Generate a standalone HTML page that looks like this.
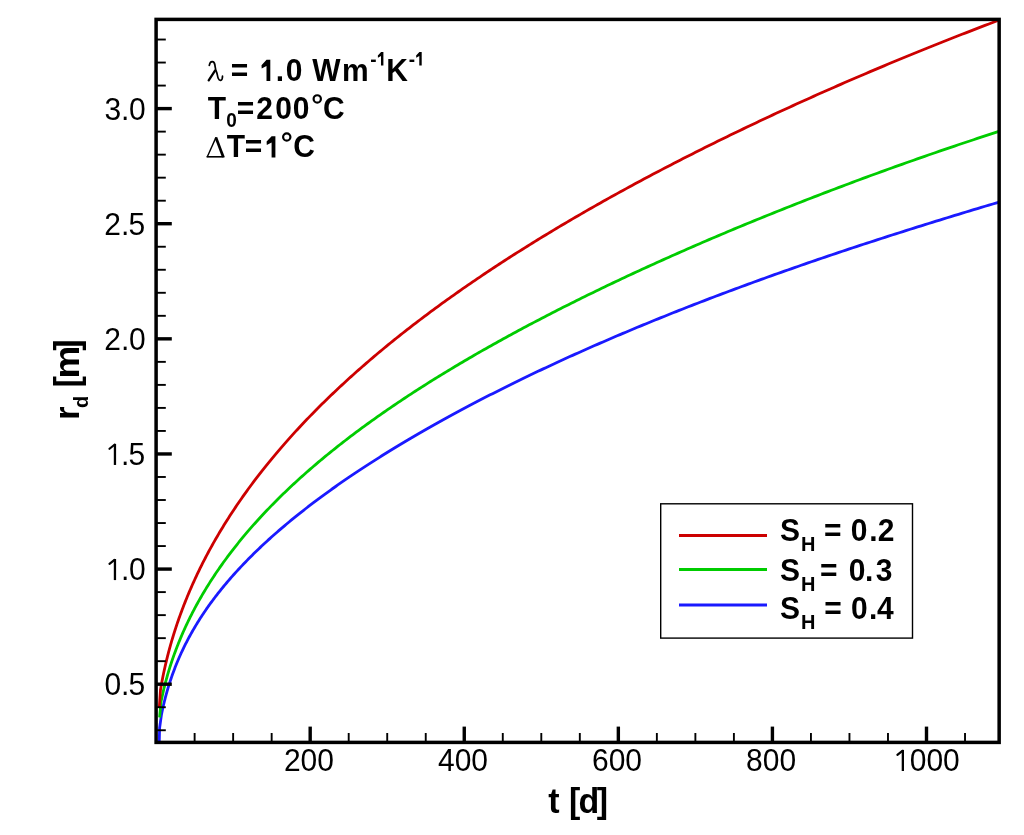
<!DOCTYPE html>
<html><head><meta charset="utf-8"><style>
html,body{margin:0;padding:0;background:#fff;}
svg{display:block;will-change:transform;}
text{font-family:"Liberation Sans",sans-serif;fill:#000;}
</style></head><body>
<svg width="1024" height="835" viewBox="0 0 1024 835">
<defs><clipPath id="pc"><rect x="156.1" y="19.4" width="843.05" height="723.0"/></clipPath></defs>
<g clip-path="url(#pc)" fill="none" stroke-width="2.8" stroke-linejoin="round">
<polyline stroke="#1a1aff" points="159.20,744.00 159.60,728.00 161.50,714.42 161.84,712.72 162.20,711.02 162.56,709.33 162.93,707.64 163.31,705.96 163.69,704.29 164.09,702.63 164.50,700.97 164.91,699.32 165.33,697.68 165.76,696.04 166.20,694.41 166.65,692.79 167.11,691.17 167.58,689.56 168.06,687.95 168.54,686.35 169.03,684.76 169.54,683.17 170.05,681.59 170.57,680.02 171.10,678.45 171.64,676.88 172.18,675.32 172.74,673.77 173.30,672.22 173.88,670.68 174.46,669.14 175.05,667.61 175.65,666.08 176.26,664.56 176.87,663.04 177.50,661.53 178.14,660.02 178.78,658.52 179.43,657.02 180.10,655.53 180.77,654.04 181.44,652.55 182.13,651.07 182.83,649.60 183.54,648.13 184.25,646.66 184.97,645.20 185.71,643.74 186.45,642.28 187.20,640.83 187.96,639.38 188.73,637.94 189.50,636.50 190.29,635.07 191.08,633.63 191.88,632.21 192.70,630.78 193.52,629.36 194.35,627.94 195.19,626.53 196.03,625.11 196.89,623.71 197.75,622.30 198.63,620.90 199.51,619.50 200.40,618.11 201.30,616.71 202.21,615.32 203.13,613.94 204.06,612.55 204.99,611.17 205.94,609.79 206.89,608.42 207.85,607.05 208.82,605.68 209.80,604.31 210.79,602.94 211.79,601.58 212.80,600.22 213.81,598.86 214.84,597.51 215.87,596.16 216.91,594.80 217.96,593.46 219.02,592.11 220.09,590.77 221.17,589.42 222.25,588.08 223.35,586.75 224.45,585.41 225.56,584.08 226.69,582.74 227.82,581.41 228.96,580.09 230.10,578.76 231.26,577.44 232.43,576.11 233.60,574.79 234.78,573.47 235.98,572.15 237.18,570.84 238.39,569.52 239.61,568.21 240.83,566.90 242.07,565.59 243.31,564.28 244.57,562.97 245.83,561.67 247.10,560.36 248.38,559.06 249.67,557.76 250.97,556.45 252.28,555.16 253.59,553.86 254.92,552.56 256.25,551.26 257.60,549.97 258.95,548.68 260.31,547.38 261.68,546.09 263.05,544.80 264.44,543.51 265.84,542.22 267.24,540.94 268.65,539.65 270.08,538.36 271.51,537.08 272.95,535.80 274.39,534.51 275.85,533.23 277.32,531.95 278.79,530.67 280.28,529.39 281.77,528.11 283.27,526.83 284.78,525.56 286.30,524.28 287.83,523.00 289.37,521.73 290.91,520.45 292.47,519.18 294.03,517.91 295.60,516.63 297.18,515.36 298.77,514.09 300.37,512.82 301.98,511.55 303.60,510.28 305.22,509.01 306.86,507.74 308.50,506.47 310.15,505.21 311.81,503.94 313.48,502.67 315.16,501.40 316.85,500.14 318.54,498.87 320.25,497.61 321.96,496.34 323.68,495.08 325.42,493.82 327.16,492.55 328.90,491.29 330.66,490.03 332.43,488.76 334.21,487.50 335.99,486.24 337.78,484.98 339.59,483.72 341.40,482.46 343.22,481.20 345.04,479.94 346.88,478.68 348.73,477.42 350.58,476.16 352.45,474.90 354.32,473.64 356.20,472.38 358.09,471.13 359.99,469.87 361.90,468.61 363.82,467.35 365.74,466.10 367.68,464.84 369.62,463.58 371.57,462.33 373.54,461.07 375.51,459.82 377.49,458.56 379.47,457.31 381.47,456.05 383.48,454.80 385.49,453.54 387.51,452.29 389.54,451.03 391.59,449.78 393.64,448.53 395.69,447.27 397.76,446.02 399.84,444.77 401.92,443.51 404.02,442.26 406.12,441.01 408.23,439.76 410.35,438.51 412.48,437.26 414.62,436.00 416.77,434.75 418.92,433.50 421.09,432.25 423.26,431.00 425.44,429.75 427.63,428.50 429.83,427.25 432.04,426.00 434.26,424.75 436.49,423.51 438.72,422.26 440.97,421.01 443.22,419.76 445.48,418.51 447.75,417.27 450.03,416.02 452.32,414.77 454.62,413.53 456.92,412.28 459.24,411.03 461.56,409.79 463.89,408.54 466.24,407.30 468.59,406.05 470.94,404.81 473.31,403.57 475.69,402.32 478.08,401.08 480.47,399.84 482.87,398.59 485.29,397.35 487.71,396.11 490.14,394.87 492.57,393.63 495.02,392.39 497.48,391.15 499.94,389.91 502.42,388.67 504.90,387.43 507.39,386.19 509.89,384.95 512.40,383.71 514.92,382.47 517.45,381.24 519.98,380.00 522.53,378.76 525.08,377.53 527.65,376.29 530.22,375.06 532.80,373.82 535.39,372.59 537.98,371.36 540.59,370.12 543.21,368.89 545.83,367.66 548.46,366.43 551.11,365.19 553.76,363.96 556.42,362.73 559.08,361.50 561.76,360.28 564.45,359.05 567.14,357.82 569.85,356.59 572.56,355.36 575.28,354.14 578.01,352.91 580.75,351.69 583.50,350.46 586.26,349.24 589.02,348.02 591.80,346.79 594.58,345.57 597.37,344.35 600.17,343.13 602.98,341.91 605.80,340.69 608.63,339.47 611.47,338.25 614.31,337.03 617.17,335.81 620.03,334.60 622.90,333.38 625.78,332.17 628.67,330.95 631.57,329.74 634.48,328.53 637.39,327.31 640.32,326.10 643.25,324.89 646.20,323.68 649.15,322.47 652.11,321.26 655.08,320.05 658.05,318.84 661.04,317.64 664.04,316.43 667.04,315.23 670.05,314.02 673.08,312.82 676.11,311.61 679.15,310.41 682.20,309.21 685.25,308.01 688.32,306.81 691.40,305.61 694.48,304.41 697.57,303.21 700.67,302.02 703.78,300.82 706.90,299.62 710.03,298.43 713.17,297.24 716.32,296.04 719.47,294.85 722.63,293.66 725.81,292.47 728.99,291.28 732.18,290.09 735.38,288.90 738.59,287.71 741.80,286.52 745.03,285.34 748.26,284.15 751.51,282.97 754.76,281.78 758.02,280.60 761.29,279.42 764.57,278.24 767.85,277.05 771.15,275.87 774.46,274.69 777.77,273.52 781.09,272.34 784.42,271.16 787.76,269.98 791.11,268.81 794.47,267.63 797.84,266.46 801.21,265.29 804.60,264.11 807.99,262.94 811.39,261.77 814.81,260.60 818.23,259.43 821.65,258.26 825.09,257.10 828.54,255.93 831.99,254.76 835.46,253.59 838.93,252.43 842.41,251.26 845.90,250.10 849.40,248.94 852.91,247.77 856.43,246.61 859.96,245.45 863.49,244.29 867.03,243.13 870.59,241.97 874.15,240.81 877.72,239.65 881.30,238.50 884.89,237.34 888.48,236.18 892.09,235.03 895.70,233.87 899.33,232.72 902.96,231.56 906.60,230.41 910.25,229.26 913.91,228.10 917.58,226.95 921.25,225.80 924.94,224.65 928.63,223.50 932.34,222.35 936.05,221.20 939.77,220.05 943.50,218.90 947.24,217.75 950.98,216.60 954.74,215.45 958.50,214.30 962.28,213.15 966.06,212.01 969.85,210.86 973.65,209.71 977.46,208.57 981.28,207.42 985.10,206.27 988.94,205.13 992.78,203.98 996.64,202.83 1000.50,201.69"/>
<polyline stroke="#00cc00" points="159.60,717.50 161.00,702.01 161.33,700.35 161.67,698.70 162.02,697.04 162.38,695.39 162.75,693.73 163.12,692.08 163.51,690.43 163.90,688.78 164.30,687.13 164.71,685.48 165.14,683.83 165.56,682.19 166.00,680.54 166.45,678.90 166.91,677.26 167.37,675.61 167.85,673.97 168.33,672.34 168.82,670.70 169.32,669.06 169.83,667.43 170.35,665.79 170.88,664.16 171.41,662.53 171.96,660.90 172.51,659.27 173.07,657.65 173.65,656.02 174.23,654.40 174.82,652.78 175.42,651.16 176.02,649.54 176.64,647.92 177.26,646.30 177.90,644.68 178.54,643.07 179.19,641.46 179.86,639.85 180.52,638.24 181.20,636.63 181.89,635.02 182.59,633.42 183.29,631.81 184.01,630.21 184.73,628.61 185.46,627.01 186.20,625.42 186.95,623.82 187.71,622.23 188.48,620.63 189.26,619.04 190.04,617.45 190.84,615.86 191.64,614.28 192.45,612.69 193.28,611.11 194.11,609.53 194.95,607.95 195.79,606.37 196.65,604.79 197.52,603.21 198.39,601.64 199.27,600.07 200.17,598.50 201.07,596.93 201.98,595.36 202.90,593.79 203.83,592.23 204.76,590.67 205.71,589.10 206.66,587.54 207.63,585.99 208.60,584.43 209.58,582.87 210.57,581.32 211.57,579.77 212.58,578.22 213.60,576.67 214.62,575.12 215.66,573.58 216.70,572.03 217.76,570.49 218.82,568.95 219.89,567.41 220.97,565.88 222.06,564.34 223.15,562.81 224.26,561.27 225.38,559.74 226.50,558.21 227.63,556.68 228.78,555.16 229.93,553.63 231.09,552.11 232.26,550.59 233.43,549.07 234.62,547.55 235.81,546.03 237.02,544.52 238.23,543.00 239.45,541.49 240.69,539.98 241.93,538.47 243.17,536.96 244.43,535.46 245.70,533.95 246.97,532.45 248.26,530.95 249.55,529.45 250.85,527.95 252.17,526.45 253.49,524.95 254.82,523.46 256.15,521.97 257.50,520.47 258.86,518.98 260.22,517.50 261.59,516.01 262.98,514.52 264.37,513.04 265.77,511.56 267.18,510.08 268.60,508.60 270.02,507.12 271.46,505.64 272.90,504.16 274.36,502.69 275.82,501.22 277.29,499.74 278.77,498.27 280.26,496.81 281.76,495.34 283.27,493.87 284.78,492.41 286.31,490.94 287.84,489.48 289.38,488.02 290.94,486.56 292.50,485.10 294.07,483.65 295.64,482.19 297.23,480.73 298.83,479.28 300.43,477.83 302.05,476.38 303.67,474.93 305.30,473.48 306.94,472.03 308.59,470.59 310.25,469.14 311.92,467.70 313.60,466.26 315.28,464.82 316.98,463.38 318.68,461.94 320.39,460.50 322.11,459.06 323.84,457.63 325.58,456.19 327.33,454.76 329.08,453.33 330.85,451.90 332.62,450.47 334.41,449.04 336.20,447.61 338.00,446.19 339.81,444.76 341.63,443.34 343.46,441.91 345.30,440.49 347.14,439.07 349.00,437.65 350.86,436.23 352.73,434.81 354.61,433.39 356.50,431.98 358.40,430.56 360.31,429.15 362.23,427.73 364.15,426.32 366.09,424.91 368.03,423.50 369.98,422.09 371.95,420.68 373.92,419.27 375.90,417.86 377.88,416.45 379.88,415.05 381.89,413.64 383.90,412.24 385.93,410.84 387.96,409.43 390.00,408.03 392.05,406.63 394.11,405.23 396.18,403.83 398.26,402.44 400.34,401.04 402.44,399.64 404.54,398.24 406.65,396.85 408.78,395.45 410.91,394.06 413.05,392.67 415.19,391.27 417.35,389.88 419.52,388.49 421.69,387.10 423.88,385.71 426.07,384.32 428.27,382.93 430.48,381.55 432.70,380.16 434.93,378.77 437.17,377.39 439.42,376.00 441.67,374.62 443.94,373.23 446.21,371.85 448.49,370.47 450.78,369.08 453.08,367.70 455.39,366.32 457.71,364.94 460.04,363.56 462.37,362.18 464.72,360.80 467.07,359.42 469.43,358.04 471.80,356.67 474.18,355.29 476.57,353.91 478.97,352.54 481.38,351.16 483.79,349.79 486.22,348.41 488.65,347.04 491.09,345.66 493.54,344.29 496.01,342.92 498.47,341.54 500.95,340.17 503.44,338.80 505.94,337.43 508.44,336.06 510.95,334.69 513.48,333.32 516.01,331.95 518.55,330.58 521.10,329.21 523.66,327.84 526.22,326.48 528.80,325.11 531.38,323.74 533.98,322.37 536.58,321.01 539.19,319.64 541.81,318.28 544.44,316.91 547.08,315.55 549.73,314.18 552.39,312.82 555.05,311.45 557.73,310.09 560.41,308.73 563.10,307.36 565.80,306.00 568.51,304.64 571.23,303.28 573.96,301.91 576.69,300.55 579.44,299.19 582.19,297.83 584.96,296.47 587.73,295.11 590.51,293.75 593.30,292.39 596.10,291.03 598.91,289.67 601.72,288.32 604.55,286.96 607.38,285.60 610.23,284.24 613.08,282.88 615.94,281.53 618.81,280.17 621.69,278.82 624.58,277.46 627.47,276.10 630.38,274.75 633.29,273.39 636.22,272.04 639.15,270.69 642.09,269.33 645.04,267.98 648.00,266.62 650.97,265.27 653.94,263.92 656.93,262.57 659.93,261.22 662.93,259.86 665.94,258.51 668.96,257.16 671.99,255.81 675.03,254.46 678.08,253.11 681.14,251.76 684.20,250.42 687.28,249.07 690.36,247.72 693.46,246.37 696.56,245.02 699.67,243.68 702.79,242.33 705.92,240.99 709.05,239.64 712.20,238.30 715.35,236.95 718.52,235.61 721.69,234.26 724.87,232.92 728.06,231.58 731.26,230.24 734.47,228.90 737.69,227.56 740.92,226.22 744.15,224.88 747.40,223.54 750.65,222.20 753.91,220.86 757.18,219.52 760.46,218.19 763.75,216.85 767.05,215.51 770.35,214.18 773.67,212.84 776.99,211.51 780.33,210.18 783.67,208.85 787.02,207.51 790.38,206.18 793.75,204.85 797.13,203.52 800.51,202.20 803.91,200.87 807.31,199.54 810.73,198.22 814.15,196.89 817.58,195.57 821.02,194.24 824.47,192.92 827.93,191.60 831.39,190.28 834.87,188.96 838.36,187.64 841.85,186.32 845.35,185.00 848.86,183.69 852.38,182.37 855.91,181.06 859.45,179.75 863.00,178.43 866.55,177.12 870.12,175.81 873.69,174.51 877.27,173.20 880.87,171.89 884.47,170.59 888.08,169.28 891.69,167.98 895.32,166.68 898.96,165.38 902.60,164.08 906.26,162.79 909.92,161.49 913.59,160.20 917.27,158.90 920.96,157.61 924.66,156.32 928.37,155.03 932.08,153.75 935.81,152.46 939.54,151.18 943.29,149.90 947.04,148.62 950.80,147.34 954.57,146.06 958.35,144.79 962.13,143.51 965.93,142.24 969.74,140.97 973.55,139.71 977.37,138.44 981.21,137.18 985.05,135.91 988.90,134.65 992.76,133.40 996.62,132.14 1000.50,130.89"/>
<polyline stroke="#cc0000" points="159.30,707.50 160.50,689.77 160.82,687.89 161.15,686.01 161.48,684.13 161.83,682.25 162.18,680.37 162.55,678.49 162.92,676.60 163.30,674.72 163.69,672.84 164.09,670.97 164.50,669.09 164.92,667.21 165.34,665.33 165.78,663.45 166.22,661.58 166.68,659.70 167.14,657.82 167.61,655.95 168.09,654.07 168.58,652.20 169.08,650.32 169.59,648.45 170.10,646.58 170.63,644.71 171.16,642.84 171.70,640.97 172.26,639.10 172.82,637.23 173.39,635.36 173.97,633.49 174.56,631.63 175.15,629.76 175.76,627.90 176.37,626.03 177.00,624.17 177.63,622.31 178.27,620.44 178.92,618.58 179.58,616.72 180.25,614.86 180.93,613.01 181.62,611.15 182.31,609.29 183.02,607.44 183.73,605.58 184.45,603.73 185.19,601.88 185.93,600.03 186.68,598.18 187.43,596.33 188.20,594.48 188.98,592.63 189.76,590.79 190.56,588.94 191.36,587.10 192.17,585.25 193.00,583.41 193.83,581.57 194.67,579.73 195.51,577.89 196.37,576.06 197.24,574.22 198.11,572.38 199.00,570.55 199.89,568.72 200.79,566.89 201.70,565.05 202.62,563.23 203.55,561.40 204.49,559.57 205.44,557.74 206.40,555.92 207.36,554.10 208.33,552.27 209.32,550.45 210.31,548.63 211.31,546.82 212.32,545.00 213.34,543.18 214.37,541.37 215.40,539.55 216.45,537.74 217.51,535.93 218.57,534.12 219.64,532.31 220.72,530.51 221.82,528.70 222.91,526.90 224.02,525.09 225.14,523.29 226.27,521.49 227.40,519.69 228.55,517.89 229.70,516.10 230.86,514.30 232.04,512.51 233.22,510.71 234.41,508.92 235.60,507.13 236.81,505.34 238.03,503.56 239.25,501.77 240.49,499.99 241.73,498.20 242.98,496.42 244.25,494.64 245.52,492.86 246.80,491.08 248.08,489.30 249.38,487.53 250.69,485.75 252.00,483.98 253.33,482.21 254.66,480.44 256.00,478.67 257.35,476.90 258.71,475.14 260.08,473.37 261.46,471.61 262.85,469.85 264.24,468.09 265.65,466.33 267.06,464.57 268.49,462.81 269.92,461.06 271.36,459.30 272.81,457.55 274.27,455.80 275.74,454.05 277.21,452.30 278.70,450.55 280.19,448.81 281.70,447.06 283.21,445.32 284.73,443.58 286.26,441.84 287.80,440.10 289.35,438.36 290.91,436.62 292.47,434.89 294.05,433.15 295.63,431.42 297.23,429.69 298.83,427.96 300.44,426.23 302.06,424.50 303.69,422.77 305.33,421.05 306.98,419.32 308.63,417.60 310.30,415.88 311.97,414.16 313.66,412.44 315.35,410.72 317.05,409.01 318.76,407.29 320.48,405.58 322.21,403.87 323.95,402.16 325.69,400.45 327.45,398.74 329.21,397.03 330.98,395.32 332.77,393.62 334.56,391.91 336.36,390.21 338.17,388.51 339.98,386.81 341.81,385.11 343.65,383.41 345.49,381.72 347.35,380.02 349.21,378.33 351.08,376.63 352.96,374.94 354.85,373.25 356.75,371.56 358.66,369.87 360.57,368.19 362.50,366.50 364.44,364.82 366.38,363.13 368.33,361.45 370.29,359.77 372.26,358.09 374.24,356.41 376.23,354.73 378.23,353.05 380.24,351.38 382.25,349.70 384.28,348.03 386.31,346.36 388.35,344.69 390.40,343.02 392.46,341.35 394.53,339.68 396.61,338.01 398.70,336.35 400.79,334.68 402.90,333.02 405.01,331.35 407.14,329.69 409.27,328.03 411.41,326.37 413.56,324.71 415.72,323.06 417.89,321.40 420.07,319.74 422.25,318.09 424.45,316.44 426.65,314.78 428.86,313.13 431.09,311.48 433.32,309.83 435.56,308.18 437.81,306.53 440.06,304.89 442.33,303.24 444.61,301.60 446.89,299.95 449.18,298.31 451.49,296.67 453.80,295.03 456.12,293.39 458.45,291.75 460.79,290.11 463.14,288.47 465.49,286.84 467.86,285.20 470.23,283.57 472.62,281.93 475.01,280.30 477.41,278.67 479.82,277.04 482.24,275.41 484.67,273.78 487.11,272.15 489.55,270.52 492.01,268.90 494.47,267.27 496.95,265.65 499.43,264.02 501.92,262.40 504.42,260.78 506.93,259.16 509.45,257.54 511.97,255.92 514.51,254.30 517.06,252.68 519.61,251.06 522.17,249.45 524.74,247.83 527.33,246.22 529.92,244.60 532.51,242.99 535.12,241.38 537.74,239.77 540.37,238.15 543.00,236.55 545.64,234.94 548.30,233.33 550.96,231.72 553.63,230.11 556.31,228.51 559.00,226.90 561.70,225.30 564.40,223.69 567.12,222.09 569.84,220.49 572.58,218.89 575.32,217.29 578.07,215.69 580.83,214.09 583.60,212.49 586.38,210.89 589.17,209.30 591.96,207.70 594.77,206.11 597.58,204.51 600.41,202.92 603.24,201.32 606.08,199.73 608.93,198.14 611.79,196.55 614.66,194.96 617.54,193.37 620.42,191.78 623.32,190.19 626.22,188.61 629.14,187.02 632.06,185.44 634.99,183.85 637.93,182.27 640.88,180.68 643.84,179.10 646.80,177.52 649.78,175.94 652.77,174.36 655.76,172.78 658.76,171.20 661.77,169.62 664.80,168.05 667.83,166.47 670.86,164.89 673.91,163.32 676.97,161.74 680.04,160.17 683.11,158.60 686.19,157.03 689.29,155.46 692.39,153.89 695.50,152.32 698.62,150.75 701.75,149.18 704.89,147.61 708.03,146.05 711.19,144.48 714.35,142.92 717.53,141.35 720.71,139.79 723.90,138.23 727.10,136.67 730.31,135.11 733.53,133.55 736.76,131.99 739.99,130.43 743.24,128.87 746.49,127.31 749.76,125.76 753.03,124.20 756.31,122.65 759.60,121.10 762.90,119.55 766.21,117.99 769.52,116.44 772.85,114.89 776.19,113.35 779.53,111.80 782.88,110.25 786.25,108.71 789.62,107.16 793.00,105.62 796.39,104.07 799.78,102.53 803.19,100.99 806.61,99.45 810.03,97.91 813.47,96.37 816.91,94.84 820.36,93.30 823.82,91.77 827.29,90.23 830.77,88.70 834.26,87.17 837.75,85.64 841.26,84.11 844.77,82.58 848.30,81.05 851.83,79.52 855.37,78.00 858.92,76.47 862.48,74.95 866.05,73.43 869.63,71.91 873.22,70.39 876.81,68.87 880.42,67.35 884.03,65.84 887.65,64.32 891.28,62.81 894.92,61.30 898.57,59.79 902.23,58.28 905.90,56.77 909.57,55.26 913.26,53.76 916.95,52.25 920.66,50.75 924.37,49.25 928.09,47.75 931.82,46.25 935.56,44.75 939.31,43.26 943.07,41.76 946.83,40.27 950.61,38.78 954.39,37.29 958.18,35.80 961.99,34.31 965.80,32.83 969.62,31.34 973.45,29.86 977.28,28.38 981.13,26.90 984.99,25.43 988.85,23.95 992.73,22.48 996.61,21.00 1000.50,19.53"/>
</g>
<line x1="156" y1="730.25" x2="165.8" y2="730.25" stroke="#000" stroke-width="1.9"/><line x1="156" y1="707.22" x2="165.8" y2="707.22" stroke="#000" stroke-width="1.9"/><line x1="156" y1="684.20" x2="171.8" y2="684.20" stroke="#000" stroke-width="3.4"/><line x1="156" y1="661.18" x2="165.8" y2="661.18" stroke="#000" stroke-width="1.9"/><line x1="156" y1="638.15" x2="165.8" y2="638.15" stroke="#000" stroke-width="1.9"/><line x1="156" y1="615.13" x2="165.8" y2="615.13" stroke="#000" stroke-width="1.9"/><line x1="156" y1="592.10" x2="165.8" y2="592.10" stroke="#000" stroke-width="1.9"/><line x1="156" y1="569.08" x2="171.8" y2="569.08" stroke="#000" stroke-width="3.4"/><line x1="156" y1="546.06" x2="165.8" y2="546.06" stroke="#000" stroke-width="1.9"/><line x1="156" y1="523.03" x2="165.8" y2="523.03" stroke="#000" stroke-width="1.9"/><line x1="156" y1="500.01" x2="165.8" y2="500.01" stroke="#000" stroke-width="1.9"/><line x1="156" y1="476.98" x2="165.8" y2="476.98" stroke="#000" stroke-width="1.9"/><line x1="156" y1="453.96" x2="171.8" y2="453.96" stroke="#000" stroke-width="3.4"/><line x1="156" y1="430.94" x2="165.8" y2="430.94" stroke="#000" stroke-width="1.9"/><line x1="156" y1="407.91" x2="165.8" y2="407.91" stroke="#000" stroke-width="1.9"/><line x1="156" y1="384.89" x2="165.8" y2="384.89" stroke="#000" stroke-width="1.9"/><line x1="156" y1="361.86" x2="165.8" y2="361.86" stroke="#000" stroke-width="1.9"/><line x1="156" y1="338.84" x2="171.8" y2="338.84" stroke="#000" stroke-width="3.4"/><line x1="156" y1="315.82" x2="165.8" y2="315.82" stroke="#000" stroke-width="1.9"/><line x1="156" y1="292.79" x2="165.8" y2="292.79" stroke="#000" stroke-width="1.9"/><line x1="156" y1="269.77" x2="165.8" y2="269.77" stroke="#000" stroke-width="1.9"/><line x1="156" y1="246.74" x2="165.8" y2="246.74" stroke="#000" stroke-width="1.9"/><line x1="156" y1="223.72" x2="171.8" y2="223.72" stroke="#000" stroke-width="3.4"/><line x1="156" y1="200.70" x2="165.8" y2="200.70" stroke="#000" stroke-width="1.9"/><line x1="156" y1="177.67" x2="165.8" y2="177.67" stroke="#000" stroke-width="1.9"/><line x1="156" y1="154.65" x2="165.8" y2="154.65" stroke="#000" stroke-width="1.9"/><line x1="156" y1="131.62" x2="165.8" y2="131.62" stroke="#000" stroke-width="1.9"/><line x1="156" y1="108.60" x2="171.8" y2="108.60" stroke="#000" stroke-width="3.4"/><line x1="156" y1="85.58" x2="165.8" y2="85.58" stroke="#000" stroke-width="1.9"/><line x1="156" y1="62.55" x2="165.8" y2="62.55" stroke="#000" stroke-width="1.9"/><line x1="156" y1="39.53" x2="165.8" y2="39.53" stroke="#000" stroke-width="1.9"/><line x1="194.62" y1="742" x2="194.62" y2="733" stroke="#000" stroke-width="1.9"/><line x1="233.14" y1="742" x2="233.14" y2="733" stroke="#000" stroke-width="1.9"/><line x1="271.66" y1="742" x2="271.66" y2="733" stroke="#000" stroke-width="1.9"/><line x1="310.18" y1="742" x2="310.18" y2="726.6" stroke="#000" stroke-width="3.4"/><line x1="348.70" y1="742" x2="348.70" y2="733" stroke="#000" stroke-width="1.9"/><line x1="387.22" y1="742" x2="387.22" y2="733" stroke="#000" stroke-width="1.9"/><line x1="425.74" y1="742" x2="425.74" y2="733" stroke="#000" stroke-width="1.9"/><line x1="464.26" y1="742" x2="464.26" y2="726.6" stroke="#000" stroke-width="3.4"/><line x1="502.78" y1="742" x2="502.78" y2="733" stroke="#000" stroke-width="1.9"/><line x1="541.30" y1="742" x2="541.30" y2="733" stroke="#000" stroke-width="1.9"/><line x1="579.82" y1="742" x2="579.82" y2="733" stroke="#000" stroke-width="1.9"/><line x1="618.34" y1="742" x2="618.34" y2="726.6" stroke="#000" stroke-width="3.4"/><line x1="656.86" y1="742" x2="656.86" y2="733" stroke="#000" stroke-width="1.9"/><line x1="695.38" y1="742" x2="695.38" y2="733" stroke="#000" stroke-width="1.9"/><line x1="733.90" y1="742" x2="733.90" y2="733" stroke="#000" stroke-width="1.9"/><line x1="772.42" y1="742" x2="772.42" y2="726.6" stroke="#000" stroke-width="3.4"/><line x1="810.94" y1="742" x2="810.94" y2="733" stroke="#000" stroke-width="1.9"/><line x1="849.46" y1="742" x2="849.46" y2="733" stroke="#000" stroke-width="1.9"/><line x1="887.98" y1="742" x2="887.98" y2="733" stroke="#000" stroke-width="1.9"/><line x1="926.50" y1="742" x2="926.50" y2="726.6" stroke="#000" stroke-width="3.4"/><line x1="965.02" y1="742" x2="965.02" y2="733" stroke="#000" stroke-width="1.9"/>
<rect x="156.1" y="19.4" width="843.05" height="723.00" fill="none" stroke="#000" stroke-width="3.5"/>
<text transform="translate(0,695.2) scale(1,1.055)" x="104.53 120.96 128.40" y="0" font-size="30" font-weight="normal" >0.5</text><text transform="translate(0,580.08) scale(1,1.055)" x="120.96 128.93" y="0" font-size="30" font-weight="normal" >.0</text><path d="M113.80,580.08 L116.10,580.08 L116.10,558.98 L113.80,558.98 Z" fill="#000"/><path d="M114.50,559.88 L109.50,563.88" stroke="#000" stroke-width="2.2" stroke-linecap="round"/><text transform="translate(0,464.96) scale(1,1.055)" x="120.96 128.40" y="0" font-size="30" font-weight="normal" >.5</text><path d="M113.80,464.96 L116.10,464.96 L116.10,443.86 L113.80,443.86 Z" fill="#000"/><path d="M114.50,444.76 L109.50,448.76" stroke="#000" stroke-width="2.2" stroke-linecap="round"/><text transform="translate(0,349.84) scale(1,1.055)" x="104.19 120.96 128.93" y="0" font-size="30" font-weight="normal" >2.0</text><text transform="translate(0,234.72) scale(1,1.055)" x="104.19 120.96 128.40" y="0" font-size="30" font-weight="normal" >2.5</text><text transform="translate(0,119.6) scale(1,1.055)" x="104.56 120.96 128.93" y="0" font-size="30" font-weight="normal" >3.0</text>
<text transform="translate(308.9,771.0) scale(1,1.055)" text-anchor="middle" font-size="30">200</text><text transform="translate(463.0,771.0) scale(1,1.055)" text-anchor="middle" font-size="30">400</text><text transform="translate(617.0,771.0) scale(1,1.055)" text-anchor="middle" font-size="30">600</text><text transform="translate(771.1,771.0) scale(1,1.055)" text-anchor="middle" font-size="30">800</text><text transform="translate(0,771.0) scale(1,1.055)" x="909.73 926.43 943.13" y="0" font-size="30" font-weight="normal" >000</text><path d="M901.70,771.0 L904.00,771.0 L904.00,749.90 L901.70,749.90 Z" fill="#000"/><path d="M902.40,750.80 L897.40,754.80" stroke="#000" stroke-width="2.2" stroke-linecap="round"/>
<text transform="translate(0,812.6) scale(1,1.055)" x="548.38 568.89 578.41 596.69" y="0" font-size="34" font-weight="bold" >t[d]</text>
<g transform="rotate(-90)"><text transform="translate(0,79.0) scale(1,1.055)" x="-419.74 -387.61 -350.72" y="0" font-size="34" font-weight="bold" >r[]</text><text transform="translate(-376.0,79.0) scale(1.0858,1.055)" x="-2.24" y="0" font-size="34" font-weight="bold">m</text><text transform="translate(0,88.0) scale(1,1.055)" x="-408.12" y="0" font-size="20" font-weight="bold" >d</text></g>
<path d="M209.3,65.4 C209.8,62.8 211,61.6 212.3,61.7 C213.9,61.8 214.6,63.2 214.9,65 C215.3,67.5 215.4,70 216.5,72 C217.3,73.5 217.3,76 218.2,78.3 C218.8,79.8 219.6,80.5 220.6,80.4 C222,80.2 222.5,78.6 222.5,76.2" fill="none" stroke="#000" stroke-width="1.7" stroke-linecap="round"/><path d="M215.2,70.4 L208.7,80.4" stroke="#000" stroke-width="2.3" stroke-linecap="round"/>
<path d="M207.2,157 L215.9,137.6" stroke="#000" stroke-width="1.4"/><path d="M215.9,137.4 L223.3,157" stroke="#000" stroke-width="2.7"/><path d="M206.6,156.8 L224.4,156.8" stroke="#000" stroke-width="1.6"/><path d="M215.9,137.2 L215.9,140" stroke="#000" stroke-width="1.6"/>
<text transform="translate(0,81) scale(1,1.055)" x="230.65 275.76 285.71 312.17 342.02 386.19" y="0" font-size="30" font-weight="bold" >=.0WmK</text><path d="M270.30,81.00 L266.50,81.00 L266.50,66.00 L261.70,68.60 L261.50,65.20 L266.30,60.00 L266.50,59.80 L270.30,59.80 Z" fill="#000"/><text transform="translate(0,65.5) scale(1,1.055)" x="370.36 408.66" y="0" font-size="19" font-weight="bold" >--</text><path d="M383.40,65.50 L380.99,65.50 L380.99,56.00 L377.95,57.65 L377.83,55.49 L380.87,52.20 L380.99,52.07 L383.40,52.07 Z" fill="#000"/><path d="M421.70,65.50 L419.29,65.50 L419.29,56.00 L416.25,57.65 L416.13,55.49 L419.17,52.20 L419.29,52.07 L421.70,52.07 Z" fill="#000"/>
<text transform="translate(0,119.3) scale(1,1.055)" x="207.76 236.85 256.26 275.21 292.81 322.97" y="0" font-size="30" font-weight="bold" >T=200C</text><circle cx="317.25" cy="98.90" r="3.65" fill="none" stroke="#000" stroke-width="2.2"/><text transform="translate(0,127.3) scale(1,1.055)" x="226.35" y="0" font-size="19" font-weight="bold" >0</text>
<text transform="translate(0,157.4) scale(1,1.055)" x="226.76 244.85 293.27" y="0" font-size="30" font-weight="bold" >T=C</text><path d="M275.40,157.40 L271.60,157.40 L271.60,142.40 L266.80,145.00 L266.60,141.60 L271.40,136.40 L271.60,136.20 L275.40,136.20 Z" fill="#000"/><circle cx="286.75" cy="137.00" r="3.65" fill="none" stroke="#000" stroke-width="2.2"/>
<rect x="660.7" y="503.8" width="251.8" height="134.3" fill="#fff" stroke="#000" stroke-width="1.4"/>
<line x1="679" y1="535.5" x2="767" y2="535.5" stroke="#cc0000" stroke-width="3"/>
<line x1="679" y1="569.5" x2="767" y2="569.5" stroke="#00cc00" stroke-width="3"/>
<line x1="679" y1="605" x2="767" y2="605" stroke="#1a1aff" stroke-width="3"/>
<text transform="translate(0,541.0) scale(1,1.055)" x="780.04 823.95 850.81 869.26 877.66" y="0" font-size="30" font-weight="bold" >S=0.2</text><text transform="translate(0,551.3) scale(1,1.055)" x="800.96" y="0" font-size="20" font-weight="bold" >H</text><text transform="translate(0,580.5) scale(1,1.055)" x="780.04 820.05 848.81 864.96 875.71" y="0" font-size="30" font-weight="bold" >S=0.3</text><text transform="translate(0,590.8) scale(1,1.055)" x="800.96" y="0" font-size="20" font-weight="bold" >H</text><text transform="translate(0,618.5) scale(1,1.055)" x="780.04 824.15 851.11 869.06 877.05" y="0" font-size="30" font-weight="bold" >S=0.4</text><text transform="translate(0,628.8) scale(1,1.055)" x="800.96" y="0" font-size="20" font-weight="bold" >H</text>
</svg>
</body></html>
